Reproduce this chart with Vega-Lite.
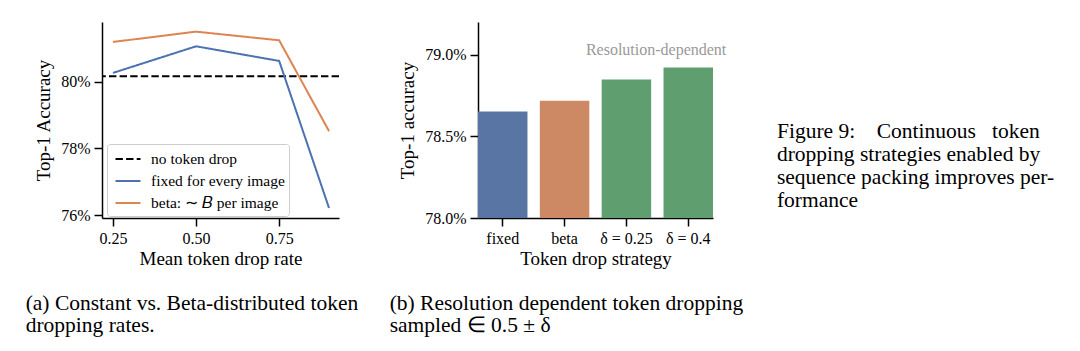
{
  "$schema": "https://vega.github.io/schema/vega-lite/v6.json",
  "padding": {"left": 25, "top": 22, "right": 0, "bottom": 0},
  "background": "white",
  "config": {
    "font": "Liberation Serif",
    "view": {"stroke": null},
    "axis": {
      "domainColor": "#000000", "domainWidth": 1.5,
      "tickColor": "#000000", "tickWidth": 1.5, "tickSize": 8,
      "labelFont": "Liberation Serif", "labelFontSize": 16, "labelColor": "#000000", "labelPadding": 4,
      "titleFont": "Liberation Serif", "titleFontSize": 19, "titleFontWeight": "normal", "titleColor": "#000000",
      "grid": false
    },
    "axisX": {"titlePadding": 3},
    "axisY": {"titlePadding": 7},
    "title": {
      "font": "Liberation Serif", "fontSize": 21.5, "fontWeight": "normal", "color": "#000000",
      "orient": "bottom", "anchor": "start", "frame": "bounds", "baseline": "top", "lineHeight": 22, "offset": 25, "dx": -9
    }
  },
  "datasets": {
    "baseline": [{"series": "no token drop", "acc": 80.17}],
    "lines": [
      {"series": "fixed for every image", "rate": 0.25, "acc": 80.27},
      {"series": "fixed for every image", "rate": 0.5, "acc": 81.07},
      {"series": "fixed for every image", "rate": 0.75, "acc": 80.63},
      {"series": "fixed for every image", "rate": 0.9, "acc": 76.21},
      {"series": "beta: ∼ 𝐵 per image", "rate": 0.25, "acc": 81.2},
      {"series": "beta: ∼ 𝐵 per image", "rate": 0.5, "acc": 81.51},
      {"series": "beta: ∼ 𝐵 per image", "rate": 0.75, "acc": 81.25},
      {"series": "beta: ∼ 𝐵 per image", "rate": 0.9, "acc": 78.52}
    ],
    "bars": [
      {"strategy": "fixed", "acc": 78.652},
      {"strategy": "beta", "acc": 78.718},
      {"strategy": "δ = 0.25", "acc": 78.848},
      {"strategy": "δ = 0.4", "acc": 78.922}
    ],
    "note": [{"strategy": "δ = 0.25", "acc": 79.0, "label": "Resolution-dependent"}],
    "caption": [
      {"line": 1, "text": "Figure 9:\u00a0\u00a0\u00a0 Continuous\u00a0\u00a0 token"},
      {"line": 2, "text": "dropping strategies enabled by"},
      {"line": 3, "text": "sequence packing improves per-"},
      {"line": 4, "text": "formance"}
    ]
  },
  "bounds": "flush",
  "spacing": 139,
  "resolve": {"scale": {"color": "independent", "strokeDash": "independent", "x": "independent", "y": "independent"}, "legend": {"color": "independent", "strokeDash": "independent"}},
  "hconcat": [
    {
      "width": 237,
      "height": 196,
      "title": {"text": ["(a) Constant vs. Beta-distributed token", "dropping rates."]},
      "layer": [
        {
          "data": {"name": "baseline"},
          "mark": {"type": "rule", "strokeWidth": 2},
          "encoding": {
            "y": {"field": "acc", "type": "quantitative",
              "scale": {"domain": [75.91, 81.8], "nice": false, "zero": false},
              "axis": {"values": [76, 78, 80], "labelExpr": "datum.value + '%'", "title": "Top-1 Accuracy"}},
            "color": {"field": "series", "type": "nominal",
              "scale": {"domain": ["no token drop", "fixed for every image", "beta: ∼ 𝐵 per image"], "range": ["#000000", "#4C72B0", "#DD8452"]},
              "legend": {"title": null, "orient": "none", "legendX": 5, "legendY": 122,
                "symbolType": "M-1.25,0L1.25,0", "symbolSize": 400, "symbolStrokeWidth": 2, "symbolOffset": 6,
                "labelFont": "Liberation Serif", "labelFontSize": 15.5, "labelColor": "#000000", "labelOffset": 12,
                "rowPadding": 2, "padding": 4, "strokeColor": "#cccccc", "fillColor": "rgba(255,255,255,0.85)", "cornerRadius": 3}},
            "strokeDash": {"field": "series", "type": "nominal",
              "scale": {"domain": ["no token drop", "fixed for every image", "beta: ∼ 𝐵 per image"], "range": [[7.4, 3.2], [1, 0], [1, 0]]},
              "legend": {"title": null, "orient": "none", "legendX": 5, "legendY": 122,
                "symbolType": "M-1.25,0L1.25,0", "symbolSize": 400, "symbolStrokeWidth": 2, "symbolOffset": 6,
                "labelFont": "Liberation Serif", "labelFontSize": 15.5, "labelColor": "#000000", "labelOffset": 12,
                "rowPadding": 2, "padding": 4, "strokeColor": "#cccccc", "fillColor": "rgba(255,255,255,0.85)", "cornerRadius": 3}}
          }
        },
        {
          "data": {"name": "lines"},
          "mark": {"type": "line", "strokeWidth": 2},
          "encoding": {
            "x": {"field": "rate", "type": "quantitative",
              "scale": {"domain": [0.217, 0.93], "nice": false, "zero": false},
              "axis": {"values": [0.25, 0.5, 0.75], "format": ".2f", "title": "Mean token drop rate"}},
            "y": {"field": "acc", "type": "quantitative"},
            "color": {"field": "series", "type": "nominal"},
            "strokeDash": {"field": "series", "type": "nominal"}
          }
        }
      ]
    },
    {
      "width": 235,
      "height": 196,
      "title": {"text": ["(b) Resolution dependent token dropping", "sampled ∈ 0.5 ± δ"]},
      "layer": [
        {
          "data": {"name": "bars"},
          "mark": {"type": "bar"},
          "encoding": {
            "x": {"field": "strategy", "type": "nominal",
              "scale": {"domain": ["fixed", "beta", "δ = 0.25", "δ = 0.4"], "paddingInner": 0.2, "paddingOuter": 0},
              "axis": {"labelAngle": 0, "title": "Token drop strategy"}},
            "y": {"field": "acc", "type": "quantitative",
              "scale": {"domain": [78.0, 79.2], "nice": false, "zero": false},
              "axis": {"values": [78.0, 78.5, 79.0], "labelExpr": "format(datum.value, '.1f') + '%'", "title": "Top-1 accuracy"}},
            "y2": {"datum": 78.0},
            "color": {"field": "strategy", "type": "nominal",
              "scale": {"domain": ["fixed", "beta", "δ = 0.25", "δ = 0.4"], "range": ["#5875A4", "#CC8963", "#5F9E6E", "#5F9E6E"]},
              "legend": null}
          }
        },
        {
          "data": {"name": "note"},
          "mark": {"type": "text", "align": "center", "baseline": "alphabetic", "fontSize": 16, "color": "#999999", "font": "Liberation Serif"},
          "encoding": {
            "x": {"field": "strategy", "type": "nominal", "bandPosition": 1.1},
            "y": {"field": "acc", "type": "quantitative"},
            "text": {"field": "label"}
          }
        }
      ]
    },
    {
      "width": 190,
      "height": 196,
      "data": {"name": "caption"},
      "mark": {"type": "text", "align": "left", "baseline": "middle", "fontSize": 21.5, "font": "Liberation Serif", "color": "#000000"},
      "encoding": {
        "x": {"datum": -0.395, "type": "quantitative", "scale": {"domain": [0, 1], "nice": false, "zero": false}, "axis": null},
        "y": {"field": "line", "type": "quantitative", "scale": {"domain": [-3.78, 4.74], "reverse": true, "nice": false, "zero": false}, "axis": null},
        "text": {"field": "text"}
      }
    }
  ]
}
